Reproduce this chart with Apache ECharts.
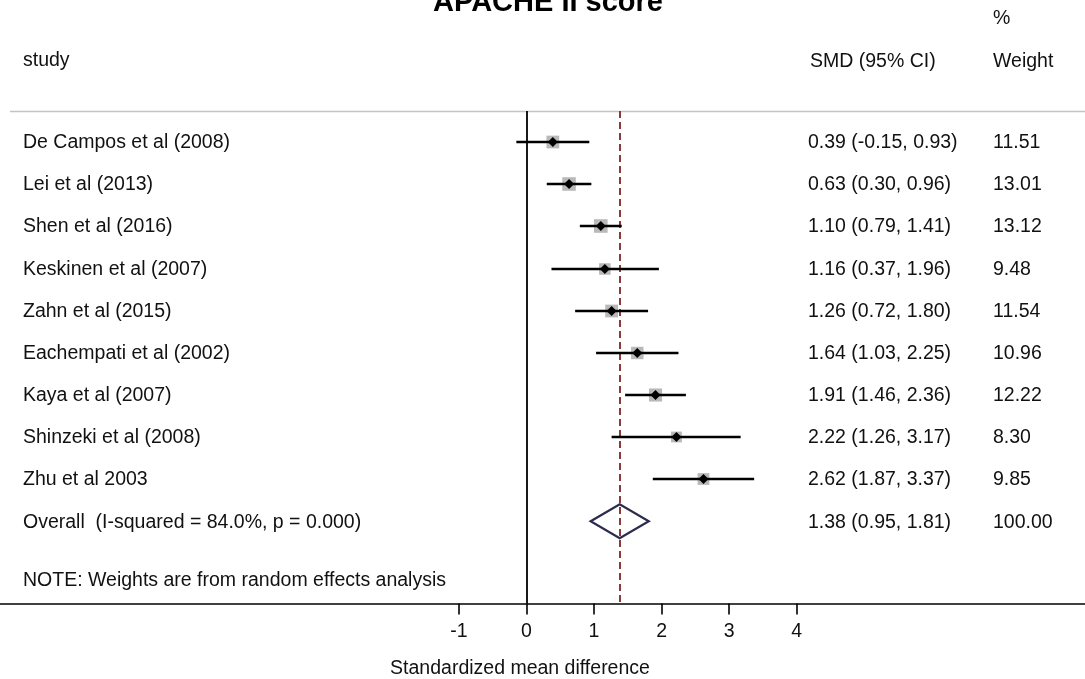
<!DOCTYPE html>
<html>
<head>
<meta charset="utf-8">
<script src="https://cdn.jsdelivr.net/npm/echarts@6/dist/echarts.min.js"></script>
<style>
html,body{margin:0;padding:0;background:#fff;}
#chart{width:1085px;height:679px;}
</style>
</head>
<body>
<div id="chart"></div>
<script>
// ---- data ----
const studies = ['De Campos et al (2008)', 'Lei et al (2013)', 'Shen et al (2016)', 'Keskinen et al (2007)',
  'Zahn et al (2015)', 'Eachempati et al (2002)', 'Kaya et al (2007)', 'Shinzeki et al (2008)', 'Zhu et al 2003'];
const smd = [0.39, 0.63, 1.10, 1.16, 1.26, 1.64, 1.91, 2.22, 2.62];
const lower = [-0.15, 0.30, 0.79, 0.37, 0.72, 1.03, 1.46, 1.26, 1.87];
const upper = [0.93, 0.96, 1.41, 1.96, 1.80, 2.25, 2.36, 3.17, 3.37];
const weights = [11.51, 13.01, 13.12, 9.48, 11.54, 10.96, 12.22, 8.30, 9.85];
const overallLabel = 'Overall  (I-squared = 84.0%, p = 0.000)';
const overallSmd = 1.38, overallLower = 0.95, overallUpper = 1.81, overallWeight = 100.00;
const tickValues = [-1, 0, 1, 2, 3, 4];
const titleText = 'APACHE II score';
const xAxisTitle = 'Standardized mean difference';
const noteText = 'NOTE: Weights are from random effects analysis';

// ---- layout ----
const FONT = '"Liberation Sans", Arial, sans-serif';
const FS = 19.5;
const COL_STUDY = 23, COL_SMD = 808, COL_W = 993;

const ciText = (e, l, h) => e.toFixed(2) + ' (' + l.toFixed(2) + ', ' + h.toFixed(2) + ')';
const txt = (x, y, s, extra) => Object.assign({
  type: 'text', x: x, y: y,
  style: { text: s, fill: '#111', font: FS + 'px ' + FONT, verticalAlign: 'middle', align: 'left' }
}, extra || {});

const studyData = studies.map((s, i) => [smd[i], lower[i], upper[i], weights[i], i]);
const overallData = [[overallSmd, overallLower, overallUpper, overallWeight, studies.length]];

function renderStudy(params, api) {
  const i = params.dataIndex;
  const est = api.value(0), lo = api.value(1), hi = api.value(2), w = api.value(3), row = api.value(4);
  const p = api.coord([est, row]), pl = api.coord([lo, row]), ph = api.coord([hi, row]);
  const y = Math.round(p[1]);
  const side = 3.75 * Math.sqrt(w);
  const d = 5;
  return {
    type: 'group',
    children: [
      { type: 'rect', shape: { x: p[0] - side / 2, y: y - side / 2, width: side, height: side }, style: { fill: '#b9b9b9' } },
      { type: 'line', shape: { x1: pl[0], y1: y, x2: ph[0], y2: y }, style: { stroke: '#000', lineWidth: 2.4 } },
      { type: 'polygon', shape: { points: [[p[0] - d, y], [p[0], y - d], [p[0] + d, y], [p[0], y + d]] }, style: { fill: '#000' } },
      txt(COL_STUDY, y + 1, studies[i]),
      txt(COL_SMD, y + 1, ciText(est, lo, hi)),
      txt(COL_W, y + 1, w.toFixed(2))
    ]
  };
}

function renderOverall(params, api) {
  const est = api.value(0), lo = api.value(1), hi = api.value(2), w = api.value(3), row = api.value(4);
  const p = api.coord([est, row]), pl = api.coord([lo, row]), ph = api.coord([hi, row]);
  const hh = 17;
  return {
    type: 'group',
    children: [
      { type: 'polygon', shape: { points: [[pl[0], p[1]], [p[0], p[1] - hh], [ph[0], p[1]], [p[0], p[1] + hh]] },
        style: { fill: 'none', stroke: '#2b2b4e', lineWidth: 2.2 } },
      txt(COL_STUDY, p[1] + 1, overallLabel),
      txt(COL_SMD, p[1] + 1, ciText(est, lo, hi)),
      txt(COL_W, p[1] + 1, w.toFixed(2))
    ]
  };
}

const chart = echarts.init(document.getElementById('chart'), null, { renderer: 'canvas' });
chart.setOption({
  animation: false,
  backgroundColor: '#fff',
  grid: { left: 0, right: 0, top: 111, bottom: 75.5 },
  xAxis: {
    type: 'value', min: -7.794, max: 8.268,
    axisLine: { onZero: false, lineStyle: { color: '#000', width: 1.5 } },
    axisTick: { customValues: tickValues, length: 11, lineStyle: { color: '#000', width: 1.6 } },
    axisLabel: { customValues: tickValues, margin: 18, color: '#111', fontSize: FS, fontFamily: FONT },
    splitLine: { show: false }
  },
  yAxis: {
    type: 'value', min: -0.743, max: 10.955, inverse: true, show: false
  },
  graphic: [
    { type: 'line', shape: { x1: 10, y1: 111.5, x2: 1085, y2: 111.5 }, style: { stroke: '#c4c4c4', lineWidth: 1.3 }, z: 1 },
    { type: 'text', x: 548, y: 3, style: { text: titleText, fill: '#000', font: 'bold 29px ' + FONT, align: 'center', verticalAlign: 'middle' } },
    txt(COL_STUDY, 61, 'study'),
    txt(810, 62, 'SMD (95% CI)'),
    txt(COL_W, 19, '%'),
    txt(COL_W, 62, 'Weight'),
    txt(COL_STUDY, 581, noteText),
    { type: 'text', x: 520, y: 669, style: { text: xAxisTitle, fill: '#111', font: FS + 'px ' + FONT, align: 'center', verticalAlign: 'middle' } }
  ],
  series: [
    {
      type: 'custom', renderItem: renderStudy, data: studyData, clip: false, z: 5,
      markLine: {
        silent: true, symbol: 'none', label: { show: false },
        data: [
          { xAxis: 0, lineStyle: { color: '#000', width: 1.8, type: 'solid' } },
          { xAxis: overallSmd, lineStyle: { color: '#8b3a3a', width: 2, type: [7, 4] } }
        ]
      }
    },
    { type: 'custom', renderItem: renderOverall, data: overallData, clip: false, z: 6 }
  ]
});
</script>
</body>
</html>
